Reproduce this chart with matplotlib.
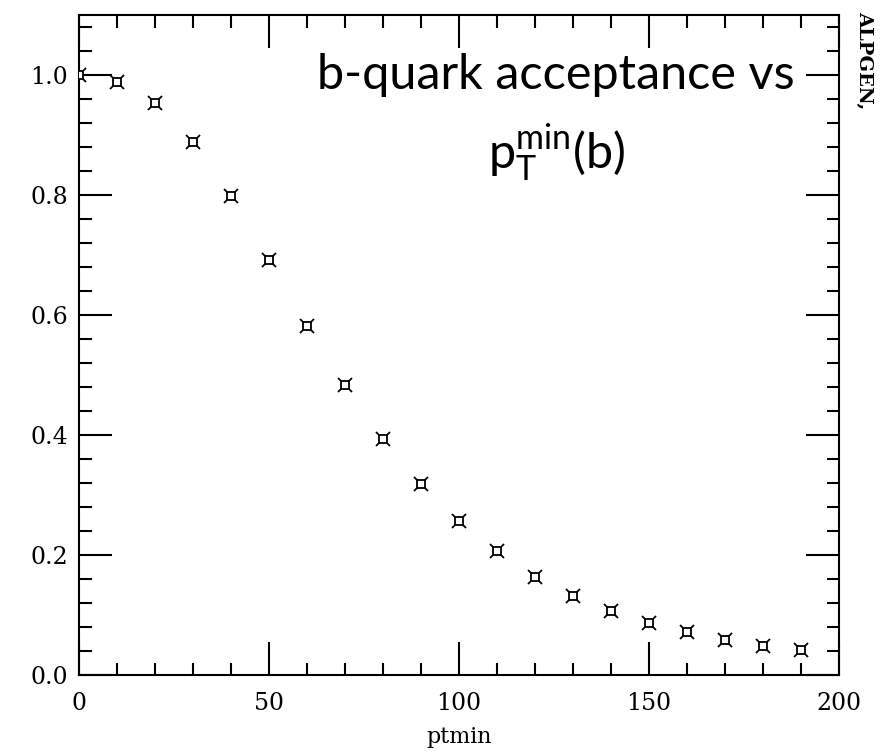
"""
b-quark acceptance as a function of the minimum pT cut (ALPGEN).
"""

import matplotlib

matplotlib.use("Agg")
import matplotlib.pyplot as plt
from matplotlib.ticker import MultipleLocator

PTMIN: list[int] = [0, 10, 20, 30, 40, 50, 60, 70, 80, 90,
                    100, 110, 120, 130, 140, 150, 160, 170, 180, 190]
ACCEPTANCE: list[float] = [1.000, 0.988, 0.953, 0.889, 0.799, 0.691, 0.581,
                           0.483, 0.394, 0.319, 0.256, 0.206, 0.164, 0.131,
                           0.106, 0.086, 0.071, 0.058, 0.048, 0.042]

FIGURE_WIDTH: float = 8.92
FIGURE_HEIGHT: float = 7.55


def create_plot() -> None:
    plt.rcParams["mathtext.fontset"] = "custom"
    plt.rcParams["mathtext.rm"] = "Lato"
    plt.rcParams["mathtext.it"] = "Lato"

    fig = plt.figure(figsize=(FIGURE_WIDTH, FIGURE_HEIGHT), dpi=100)
    ax = fig.add_axes([0.0886, 0.106, 0.852, 0.874])

    # star-like markers: an "x" with a white-filled square over its centre
    ax.plot(PTMIN, ACCEPTANCE, linestyle="none", marker="x", markersize=10,
            markeredgewidth=1.3, color="black", zorder=3)
    ax.plot(PTMIN, ACCEPTANCE, linestyle="none", marker="s", markersize=5.5,
            markerfacecolor="white", markeredgecolor="black",
            markeredgewidth=1.3, zorder=4)

    ax.set_xlim(0, 200)
    ax.set_ylim(0, 1.1)
    ax.xaxis.set_major_locator(MultipleLocator(50))
    ax.xaxis.set_minor_locator(MultipleLocator(10))
    ax.yaxis.set_major_locator(MultipleLocator(0.2))
    ax.yaxis.set_minor_locator(MultipleLocator(0.04))
    ax.yaxis.set_major_formatter(lambda v, _: f"{v:.1f}")

    ax.tick_params(which="both", direction="in", top=True, right=True,
                   width=1.5, labelsize=17)
    ax.tick_params(which="major", length=24)
    ax.tick_params(axis="y", which="major", pad=8)
    ax.tick_params(axis="x", which="major", pad=12)
    ax.tick_params(which="minor", length=9)
    for label in ax.get_xticklabels() + ax.get_yticklabels():
        label.set_family("DejaVu Serif")
    for spine in ax.spines.values():
        spine.set_linewidth(1.5)

    ax.set_xlabel("ptmin", family="DejaVu Serif", fontsize=16, labelpad=8)

    ax.text(0.628, 0.909, "b-quark acceptance vs", transform=ax.transAxes,
            ha="center", va="center", family="Lato", fontsize=35)
    ax.text(0.628, 0.79, r"$\mathrm{p_T^{min}(b)}$", transform=ax.transAxes,
            ha="center", va="center", fontsize=35)

    fig.text(0.969, 0.986, "ALPGEN,", rotation=270, ha="center", va="top",
             family="DejaVu Serif", fontsize=14, fontweight="bold")

    fig.savefig("out.png", dpi=100)


if __name__ == "__main__":
    create_plot()
